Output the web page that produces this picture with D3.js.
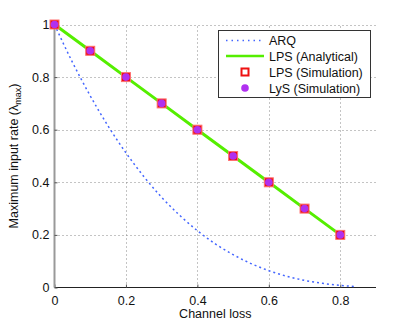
<!DOCTYPE html>
<html>
<head>
<meta charset="utf-8">
<script src="https://cdn.jsdelivr.net/npm/d3@7"></script>
<style>
  body { margin: 0; background: #fff; }
  text { font-family: "Liberation Sans", Arial, sans-serif; }
</style>
</head>
<body>
<script>
// Data
const arqLoss = [0, 0.05, 0.1, 0.15, 0.2, 0.25, 0.3, 0.35, 0.4, 0.45, 0.5, 0.55, 0.6, 0.65, 0.7, 0.75, 0.8, 0.84];
const arqRate = [1, 0.857, 0.729, 0.614, 0.512, 0.422, 0.343, 0.275, 0.216, 0.166, 0.125, 0.091, 0.064, 0.043, 0.027, 0.016, 0.008, 0.004];
const simLoss = [0, 0.1, 0.2, 0.3, 0.4, 0.5, 0.6, 0.7, 0.8];
const lpsRate = [1, 0.9, 0.8, 0.7, 0.6, 0.5, 0.4, 0.3, 0.2];
const lysRate = [1, 0.9, 0.8, 0.7, 0.6, 0.5, 0.4, 0.3, 0.2];
const xTicks = [0, 0.2, 0.4, 0.6, 0.8];
const yTicks = [0, 0.2, 0.4, 0.6, 0.8, 1];
const legendLabels = ["ARQ", "LPS (Analytical)", "LPS (Simulation)", "LyS (Simulation)"];

const W = 415, H = 324;
const svg = d3.select("body").append("svg").attr("width", W).attr("height", H);

const x = d3.scaleLinear().domain([0, 0.9]).range([54.5, 376]);
const y = d3.scaleLinear().domain([0, 1]).range([287.5, 24.5]);

// grid
const grid = svg.append("g").attr("stroke", "#888").attr("stroke-width", 1).attr("stroke-dasharray", "1,3");
grid.selectAll("line.h").data(yTicks.filter(d => d > 0)).join("line")
    .attr("x1", x(0)).attr("x2", x(0.9))
    .attr("y1", d => Math.round(y(d)) + 0.5).attr("y2", d => Math.round(y(d)) + 0.5);
grid.selectAll("line.v").data(xTicks.filter(d => d > 0)).join("line")
    .attr("x1", d => Math.round(x(d)) + 0.5).attr("x2", d => Math.round(x(d)) + 0.5)
    .attr("y1", y(0)).attr("y2", y(1));

// axes
const xAxis = svg.append("g").attr("transform", `translate(0,${y(0)})`)
    .call(d3.axisBottom(x).tickValues(xTicks).tickSize(-3).tickPadding(9).tickFormat(d3.format("~g")));
const yAxis = svg.append("g").attr("transform", `translate(${x(0)},0)`)
    .call(d3.axisLeft(y).tickValues(yTicks).tickSize(-3).tickPadding(5).tickFormat(d3.format("~g")));
[xAxis, yAxis].forEach(a => {
    a.selectAll("text").attr("font-size", 12.5).attr("fill", "#111").attr("font-family", "Liberation Sans, Arial, sans-serif");
    a.selectAll(".tick line").attr("stroke", "#555");
});
xAxis.select(".domain").attr("stroke", "#222").attr("d", `M${x(0)},0H${x(0.9)}`);
yAxis.select(".domain").attr("stroke", "#999").attr("stroke-width", 2).attr("d", `M0,${y(0)}V${y(1)}`);

// ARQ curve
const arqData = arqLoss.map((d, i) => [d, arqRate[i]]);
svg.append("path").datum(arqData)
    .attr("fill", "none").attr("stroke", "#4466ff").attr("stroke-width", 1.5)
    .attr("stroke-dasharray", "2,3")
    .attr("d", d3.line().curve(d3.curveMonotoneX).x(d => x(d[0])).y(d => y(d[1])));

// LPS analytical
const lpsData = simLoss.map((d, i) => [d, lpsRate[i]]);
svg.append("path").datum(lpsData)
    .attr("fill", "none").attr("stroke", "#55ee00").attr("stroke-width", 3)
    .attr("d", d3.line().x(d => x(d[0])).y(d => y(d[1])));

// LPS simulation squares
svg.append("g").selectAll("rect").data(lpsData).join("rect")
    .attr("x", d => x(d[0]) - 4.5).attr("y", d => y(d[1]) - 4.5)
    .attr("width", 9).attr("height", 9)
    .attr("fill", "#ee1111").attr("stroke", "#ff7070").attr("stroke-width", 1);

// LyS simulation circles
svg.append("g").selectAll("circle").data(simLoss.map((d, i) => [d, lysRate[i]])).join("circle")
    .attr("cx", d => x(d[0])).attr("cy", d => y(d[1])).attr("r", 3.8)
    .attr("fill", "#b030f0");

// legend
const lg = svg.append("g");
lg.append("rect").attr("x", 218.5).attr("y", 30.5).attr("width", 152).attr("height", 67)
    .attr("fill", "#fff").attr("stroke", "#333").attr("stroke-width", 1);
const rowY = [40.5, 56, 72, 88];
lg.append("line").attr("x1", 226).attr("x2", 264).attr("y1", rowY[0]).attr("y2", rowY[0])
    .attr("stroke", "#4466ff").attr("stroke-width", 1.5).attr("stroke-dasharray", "1.5,4");
lg.append("line").attr("x1", 226).attr("x2", 264).attr("y1", rowY[1]).attr("y2", rowY[1])
    .attr("stroke", "#55ee00").attr("stroke-width", 2.5);
lg.append("rect").attr("x", 241.5).attr("y", rowY[2] - 3.5).attr("width", 7).attr("height", 7)
    .attr("fill", "#fff").attr("stroke", "#ee1111").attr("stroke-width", 2);
lg.append("circle").attr("cx", 245).attr("cy", rowY[3]).attr("r", 3.8).attr("fill", "#b030f0");
lg.selectAll("text").data(legendLabels).join("text")
    .attr("x", 269).attr("y", (d, i) => rowY[i] + 4.5)
    .attr("font-size", 12.5).attr("fill", "#111").text(d => d);

// axis labels
svg.append("text").attr("x", x(0.45)).attr("y", 318).attr("text-anchor", "middle")
    .attr("font-size", 12.5).attr("fill", "#111").text("Channel loss");
const yl = svg.append("text").attr("transform", `translate(18,${y(0.5)}) rotate(-90)`)
    .attr("text-anchor", "middle").attr("font-size", 12.5).attr("fill", "#111");
yl.append("tspan").text("Maximum input rate (λ");
yl.append("tspan").attr("font-size", 9).attr("dy", 3).text("max");
yl.append("tspan").attr("dy", -3).text(")");
</script>
</body>
</html>
